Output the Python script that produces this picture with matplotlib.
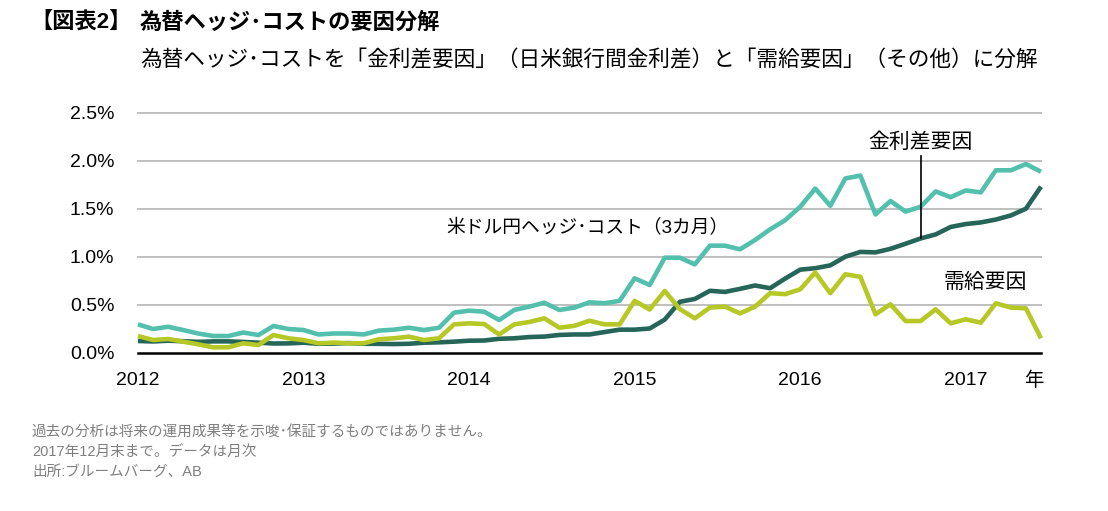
import matplotlib
matplotlib.use('Agg')
import matplotlib.pyplot as plt
import numpy as np

plt.rcParams['font.family'] = ['Liberation Sans', 'Noto Sans CJK JP', 'DejaVu Sans']

# ---- data (percent, monthly points) ----
years = ['2012', '2013', '2014', '2015', '2016', '2017']
hedge_cost = [0.295, 0.247, 0.27, 0.236, 0.20, 0.174, 0.174, 0.21, 0.184, 0.278,
              0.247, 0.236, 0.19, 0.20, 0.20, 0.19, 0.23, 0.24, 0.26, 0.236,
              0.26, 0.417, 0.4375, 0.427, 0.34, 0.445, 0.48, 0.52, 0.445, 0.47,
              0.525, 0.515, 0.54, 0.775, 0.705, 0.99, 0.99, 0.92, 1.115, 1.115,
              1.077, 1.174, 1.285, 1.38, 1.52, 1.71, 1.53, 1.815, 1.845, 1.44,
              1.58, 1.47, 1.52, 1.68, 1.62, 1.69, 1.67, 1.90, 1.90, 1.965, 1.885]
rate_diff = [0.122, 0.117, 0.125, 0.12, 0.113, 0.118, 0.118, 0.112, 0.104, 0.096,
             0.097, 0.104, 0.093, 0.095, 0.10, 0.093, 0.092, 0.09, 0.093, 0.104,
             0.108, 0.115, 0.125, 0.127, 0.145, 0.15, 0.163, 0.168, 0.185, 0.19,
             0.19, 0.215, 0.24, 0.24, 0.252, 0.345, 0.53, 0.56, 0.645, 0.633,
             0.665, 0.70, 0.672, 0.772, 0.865, 0.88, 0.91, 1.0, 1.05, 1.045,
             1.082, 1.135, 1.19, 1.232, 1.31, 1.34, 1.357, 1.387, 1.43, 1.50, 1.73]
supply_demand = [0.174, 0.132, 0.143, 0.115, 0.087, 0.056, 0.056, 0.098, 0.08, 0.184,
                 0.15, 0.132, 0.098, 0.105, 0.098, 0.098, 0.14, 0.15, 0.167, 0.132,
                 0.15, 0.295, 0.306, 0.299, 0.19, 0.295, 0.32, 0.358, 0.26, 0.28,
                 0.333, 0.295, 0.295, 0.54, 0.45, 0.643, 0.455, 0.358, 0.47, 0.48,
                 0.41, 0.48, 0.62, 0.61, 0.66, 0.835, 0.62, 0.817, 0.79, 0.40,
                 0.504, 0.33, 0.33, 0.452, 0.306, 0.348, 0.313, 0.515, 0.47, 0.462, 0.15]
y_ticks = [0.0, 0.5, 1.0, 1.5, 2.0, 2.5]

C_CYAN = '#52C0AD'
C_DARK = '#266658'
C_YEL = '#B5C826'

W, H = 1108, 511
fig = plt.figure(figsize=(W / 100, H / 100), dpi=100)
fig.patch.set_facecolor('white')

x0, x1 = 138, 1041
y0, y1 = 352.7, 112.7
ax = fig.add_axes([x0 / W, 1 - y0 / H, (x1 - x0) / W, (y0 - y1) / H])

x = np.arange(len(hedge_cost))
ax.set_xlim(0, len(hedge_cost) - 1)
ax.set_ylim(0, 2.5)

for v in y_ticks[1:]:
    ax.axhline(v, color='#bfbfbf', lw=1.4, zorder=1, clip_on=False)
ax.axhline(0, color='black', lw=1.8, zorder=5, clip_on=False)

kw = dict(lw=3.3, solid_joinstyle='round', solid_capstyle='butt', zorder=3, clip_on=False)
ax.plot(x, hedge_cost, color=C_CYAN, **kw)
ax.plot(x, rate_diff, color=C_DARK, **kw)
ax.plot(x, supply_demand, color=C_YEL, **kw)

for s in ax.spines.values():
    s.set_visible(False)
ax.set_yticks(y_ticks)
ax.set_yticklabels([f'{v:.1f}%' for v in y_ticks])
year_pos = np.arange(0, 11 * len(years), 11)
ax.set_xticks(year_pos)
ax.set_xticklabels(years)
ax.tick_params(axis='both', length=0, labelsize=14, colors='black')
ax.tick_params(axis='y', pad=17)
ax.tick_params(axis='x', pad=14)

fig.text(1034 / W, 1 - 380 / H, '年', ha='center', va='center', fontsize=14,
         family=['Noto Sans CJK JP'])

# annotations
ax.text(20.5, 1.30, '米ドル円ヘッジ･コスト（3カ月）', ha='left', va='center', fontsize=13.5)
ax.text(52, 2.195, '金利差要因', ha='center', va='center', fontsize=15)
ax.plot([52, 52], [rate_diff[52], 2.05], color='black', lw=1.2, zorder=4)
ax.text(56.3, 0.736, '需給要因', ha='center', va='center', fontsize=15)

# titles
fig.text(30 / W, 1 - 23 / H, '【図表2】', ha='left', va='center', fontsize=16, weight='bold')
fig.text(140 / W, 1 - 23 / H, '為替ヘッジ･コストの要因分解', ha='left', va='center',
         fontsize=16, weight='bold')
fig.text(140 / W, 1 - 61 / H,
         '為替ヘッジ･コストを「金利差要因」（日米銀行間金利差）と「需給要因」（その他）に分解',
         ha='left', va='center', fontsize=15.6)

# footer
foot = ['過去の分析は将来の運用成果等を示唆･保証するものではありません。',
        '2017年12月末まで。データは月次',
        '出所:ブルームバーグ、AB']
for k, t in enumerate(foot):
    fig.text(32 / W, 1 - (432 + 20 * k) / H, t, ha='left', va='center',
             fontsize=10.5, color='#7f7f7f')

fig.savefig('out.png', dpi=100, facecolor='white')
